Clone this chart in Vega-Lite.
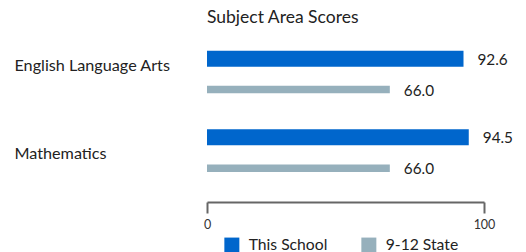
{
  "$schema": "https://vega.github.io/schema/vega-lite/v6.json",
  "autosize": "none",
  "width": 277,
  "height": 170,
  "padding": {"left": 207, "top": 32, "right": 42, "bottom": 50},
  "background": "white",
  "config": {
    "view": {"stroke": null},
    "font": "Lato"
  },
  "title": {
    "text": "Subject Area Scores",
    "anchor": "start",
    "frame": "group",
    "font": "Lato",
    "fontSize": 17.5,
    "fontWeight": "normal",
    "color": "#222222",
    "offset": 6
  },
  "data": {
    "values": [
      {"subject": "English Language Arts", "series": "This School", "value": 92.6},
      {"subject": "English Language Arts", "series": "9-12 State", "value": 66.0},
      {"subject": "Mathematics", "series": "This School", "value": 94.5},
      {"subject": "Mathematics", "series": "9-12 State", "value": 66.0}
    ]
  },
  "encoding": {
    "y": {
      "field": "subject",
      "type": "nominal",
      "sort": ["English Language Arts", "Mathematics"],
      "scale": {"paddingInner": 0.216, "paddingOuter": 0.189, "align": 0.38},
      "axis": {
        "title": null,
        "domain": false,
        "ticks": false,
        "tickSize": 0,
        "labelAlign": "left",
        "labelPadding": 193,
        "labelFont": "Lato",
        "labelFontSize": 16.2,
        "labelColor": "#222222",
        "labelOffset": {"condition": {"test": "datum.value == 'English Language Arts'", "value": -8.6}, "value": 0.8}
      }
    },
    "yOffset": {
      "field": "series",
      "type": "nominal",
      "scale": {"domain": ["This School", "9-12 State"], "paddingInner": 0, "paddingOuter": 0}
    },
    "x": {
      "field": "value",
      "type": "quantitative",
      "scale": {"domain": [0, 100], "nice": false},
      "axis": {
        "title": null,
        "values": [0, 100],
        "grid": false,
        "labelFlush": false,
        "domainColor": "#666666",
        "domainWidth": 2,
        "tickColor": "#666666",
        "tickWidth": 2,
        "tickSize": 11,
        "labelPadding": 5,
        "labelFont": "Lato",
        "labelFontSize": 12.5,
        "labelColor": "#333333"
      }
    },
    "color": {
      "field": "series",
      "type": "nominal",
      "scale": {"domain": ["This School", "9-12 State"], "range": ["#0066cc", "#96b0bc"]},
      "legend": {
        "title": null,
        "orient": "none",
        "direction": "horizontal",
        "legendX": 17,
        "legendY": 205,
        "symbolType": "square",
        "symbolSize": 225,
        "symbolStrokeWidth": 0,
        "symbolOpacity": 1,
        "labelFont": "Lato",
        "labelFontSize": 15.7,
        "labelColor": "#222222",
        "labelOffset": 9,
        "columnPadding": 33
      }
    }
  },
  "layer": [
    {
      "transform": [{"filter": "datum.series == 'This School'"}],
      "mark": {"type": "bar", "size": 16}
    },
    {
      "transform": [{"filter": "datum.series == '9-12 State'"}],
      "mark": {"type": "bar", "size": 7.5}
    },
    {
      "mark": {"type": "text", "align": "left", "baseline": "middle", "dx": 14, "dy": 1, "font": "Lato", "fontSize": 15.3, "color": "#222222"},
      "encoding": {
        "text": {"field": "value", "type": "quantitative", "format": ".1f"},
        "color": {"value": "#222222"}
      }
    }
  ]
}
